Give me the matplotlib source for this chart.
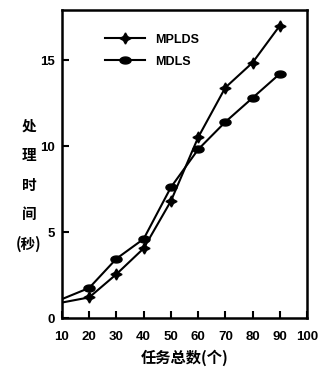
import numpy as np
import matplotlib
matplotlib.use("Agg")
import matplotlib.pyplot as plt
from matplotlib.path import Path

x = [10, 20, 30, 40, 50, 60, 70, 80, 90]
mplds = [0.9, 1.2, 2.55, 4.05, 6.8, 10.5, 13.4, 14.85, 17.0]
mdls = [1.1, 1.75, 3.45, 4.6, 7.6, 9.8, 11.4, 12.8, 14.2]
xticks = [10, 20, 30, 40, 50, 60, 70, 80, 90, 100]
yticks = [0, 5, 10, 15]

plt.rcParams['font.family'] = ['Liberation Sans', 'Noto Sans CJK SC', 'DejaVu Sans']
plt.rcParams['font.weight'] = 'bold'

fig = plt.figure(figsize=(3.22, 3.70), dpi=100)
ax = fig.add_axes([0.1925, 0.1405, 0.761, 0.832])

t = np.linspace(0, 2*np.pi, 40)
ell = Path(np.column_stack([1.6*np.cos(t), np.sin(t)]), closed=True)

mk = list(range(1, len(x)))
ax.plot(x, mplds, color='black', lw=1.5, marker=(4, 1, 0), ms=8, markeredgewidth=1.0,
        markevery=mk, label='MPLDS')
ax.plot(x, mdls, color='black', lw=1.5, marker=ell, ms=8, markevery=mk, label='MDLS')

ax.set_xlim(10, 100)
ax.set_ylim(0, 17.9)
ax.set_xticks(xticks)
ax.set_yticks(yticks)
ax.tick_params(direction='in', length=5, width=1.5, labelsize=9.5)
ax.tick_params(axis='x', pad=9)
ax.tick_params(axis='y', pad=5)
for lab in ax.get_xticklabels() + ax.get_yticklabels():
    lab.set_fontweight('bold')
for s in ax.spines.values():
    s.set_linewidth(1.8)

ax.set_xlabel('任务总数(个)', fontsize=11, fontweight='bold', family=['Noto Sans CJK SC', 'DejaVu Sans'], labelpad=5)
fig.text(0.09, 0.5, '处\n\n理\n\n时\n\n间\n\n(秒)', ha='center', va='center', fontsize=10.5,
         fontweight='bold', family=['Noto Sans CJK SC', 'DejaVu Sans'], linespacing=0.9)

leg = ax.legend(loc='upper left', bbox_to_anchor=(0.13, 0.96), frameon=False,
                handlelength=3.2, labelspacing=0.8, prop={'weight': 'bold', 'size': 9})

fig.savefig('out.png', dpi=100)
